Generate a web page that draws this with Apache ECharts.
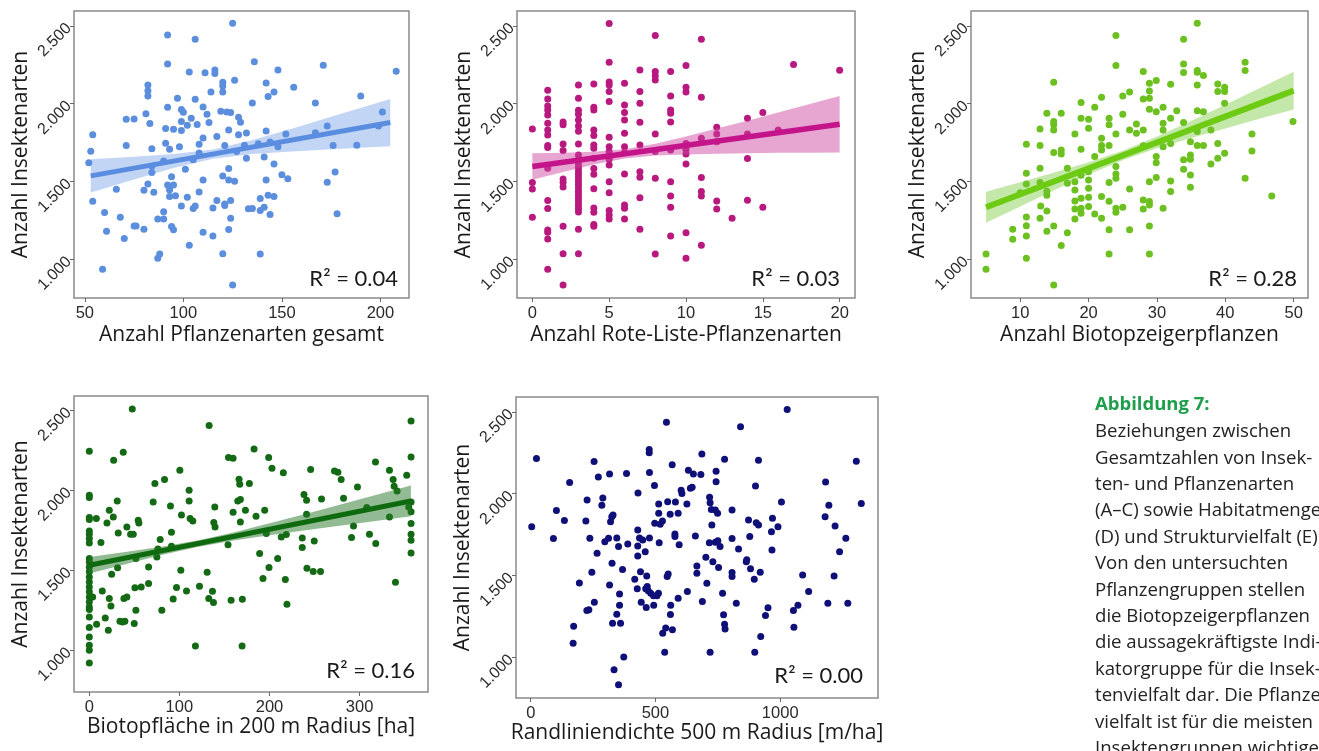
<!DOCTYPE html>
<html lang="de">
<head>
    <meta charset="UTF-8">
    <title>Abbildung 7 - Insekten- und Pflanzenarten</title>
    <script src="https://cdn.jsdelivr.net/npm/echarts@6/dist/echarts.min.js"></script>
    <style>
        body { margin: 0; background: #ffffff; }
        #chart { width: 1319px; height: 751px; }
    </style>
</head>
<body>
    <div id="chart"></div>
    <script>
        // ---- data ----
        const yTicks = [1000, 1500, 2000, 2500];

        // A: Anzahl Pflanzenarten gesamt
        const aTicks = [50, 100, 150, 200];
        const aPts = [[125,2517],[92,2442],[106,2414],[92,2256],[136,2269],[171,2247],[208,2208],[103,2204],[111,2199],[116,2217],[116,2195],[148,2217],[126,2151],[120,2138],[120,2114],[142,2133],[156,2106],[146,2076],[82,2121],[82,2084],[82,2050],[114,2076],[120,2076],[143,2046],[190,2050],[97,2035],[106,2029],[135,2005],[167,2005],[92,1977],[99,1962],[100,1945],[110,1979],[112,1932],[119,1951],[122,1947],[124,1943],[81,1936],[71,1900],[75,1902],[104,1906],[128,1913],[129,1881],[83,1872],[99,1885],[102,1861],[107,1866],[113,1879],[201,1947],[91,1840],[95,1836],[99,1827],[123,1831],[54,1801],[128,1801],[132,1812],[142,1825],[152,1806],[167,1814],[173,1857],[199,1857],[188,1733],[110,1780],[117,1789],[91,1746],[71,1731],[84,1711],[93,1707],[98,1724],[108,1739],[121,1731],[131,1733],[138,1743],[144,1754],[148,1724],[176,1731],[53,1694],[108,1683],[127,1692],[132,1649],[141,1658],[52,1621],[90,1632],[105,1639],[146,1613],[84,1598],[101,1578],[123,1583],[84,1557],[94,1531],[120,1536],[123,1510],[126,1501],[110,1510],[142,1510],[150,1544],[153,1518],[173,1495],[177,1561],[82,1484],[92,1478],[95,1478],[54,1373],[66,1450],[80,1443],[85,1431],[93,1446],[93,1403],[96,1409],[102,1399],[108,1433],[117,1378],[124,1378],[139,1390],[143,1411],[146,1403],[60,1300],[68,1270],[75,1214],[76,1214],[80,1193],[87,1259],[90,1259],[90,1306],[94,1210],[95,1189],[99,1343],[105,1326],[106,1343],[115,1330],[121,1345],[121,1356],[124,1263],[123,1191],[133,1324],[135,1326],[139,1313],[141,1334],[144,1287],[178,1293],[61,1180],[70,1133],[110,1173],[115,1150],[103,1090],[120,1036],[87,1006],[88,1034],[139,1034],[59,936],[125,835]];
        const aFit = [[53,1536],[205,1879]];
        const aBand = [[53,1429,1643],[75,1513,1659],[95,1586,1676],[115,1646,1706],[135,1676,1766],[155,1693,1839],[180,1711,1935],[205,1727,2031]];

        // B: Anzahl Rote-Liste-Pflanzenarten
        const bTicks = [0, 5, 10, 15, 20];
        const bPts = [[0,1838],[0,1493],[0,1452],[0,1270],
            [1,2086],[1,2031],[1,1986],[1,1960],[1,1928],[1,1874],[1,1831],[1,1799],[1,1731],[1,1718],[1,1585],[1,1377],[1,1326],[1,1188],[1,1173],[1,1131],[1,936],
            [2,1883],[2,1864],[2,1741],[2,1699],[2,1516],[2,1493],[2,1465],[2,1212],[2,1036],[2,835],
            [3,2121],[3,2035],[3,1958],[3,1932],[3,1896],[3,1857],[3,1823],[3,1741],[3,1671],[3,1639],[3,1612],[3,1590],[3,1568],[3,1546],[3,1524],[3,1502],[3,1480],[3,1458],[3,1436],[3,1414],[3,1392],[3,1370],[3,1348],[3,1326],[3,1304],[3,1193],[3,1036],
            [4,2127],[4,1977],[4,1960],[4,1831],[4,1795],[4,1735],[4,1714],[4,1649],[4,1583],[4,1546],[4,1454],[4,1330],[4,1302],[4,1223],[4,1212],
            [5,2515],[5,2266],[5,2140],[5,2121],[5,2078],[5,2014],[5,1784],[5,1724],[5,1692],[5,1660],[5,1643],[5,1606],[5,1499],[5,1428],[5,1313],[5,1285],[5,1259],
            [6,2132],[6,1992],[6,1943],[6,1896],[6,1810],[6,1724],[6,1686],[6,1548],[6,1349],[6,1328],[6,1259],
            [7,2217],[7,2078],[7,2003],[7,1881],[7,1735],[7,1563],[7,1527],[7,1396],[7,1193],
            [8,2438],[8,2207],[8,2179],[8,2153],[8,1806],[8,1692],[8,1521],[8,1034],
            [9,2207],[9,2050],[9,1960],[9,1938],[9,1883],[9,1703],[9,1499],[9,1407],[9,1334],[9,1150],
            [10,2245],[10,2106],[10,2076],[10,1744],[10,1705],[10,1677],[10,1613],[10,1171],[10,1006],
            [11,2414],[11,2041],[11,1778],[11,1525],[11,1435],[11,1407],[11,1090],
            [12,1849],[12,1806],[12,1756],[12,1375],[12,1323],[13,1263],
            [14,1906],[14,1806],[14,1647],[14,1379],[15,1943],[15,1334],[16,1831],[17,2252],[20,2215]];
        const bFit = [[0,1596],[20,1868]];
        const bBand = [[0,1511,1681],[2,1561,1685],[4,1609,1691],[6,1648,1708],[8,1667,1743],[10,1674,1790],[12,1678,1840],[14,1681,1891],[16,1684,1944],[18,1685,1997],[20,1687,2049]];

        // C: Anzahl Biotopzeigerpflanzen
        const cTicks = [10, 20, 30, 40, 50];
        const cPts = [[5,1034],[5,936],[8.9,1193],[8.9,1129],[10.9,1739],[10.9,1553],[10.9,1484],[10.9,1272],[10.9,1216],[10.9,1150],[10.9,1006],[10,1428],
            [12.9,1585],[12.9,1731],[12.9,1838],[12.9,1493],[13,1343],[12.9,1263],[13.9,1939],[13.9,1437],[13.9,1411],[13.9,1311],[13.9,1180],
            [14.9,2138],[14.9,1885],[14.9,1864],[14.9,1831],[14.9,1686],[14.9,1214],[14.9,835],[16,1939],[16,1703],[16,1677],[16,1088],
            [16.9,1585],[16.9,1488],[16.9,1171],[18,1806],[18,1499],[18,1446],[18,1375],[18,1323],[18,1259],
            [18.9,2007],[18.9,1906],[18.9,1707],[18.9,1540],[18.9,1392],[18.9,1328],[18.9,1296],
            [20,1900],[20,1842],[20,1563],[20,1510],[20,1456],[20,1399],[20,1339],[20.9,1977],[20.9,1660],[20.9,1291],
            [21.9,2041],[21.9,1778],[21.9,1731],[21.9,1703],[21.9,1403],[21.9,1263],
            [23,1906],[23,1864],[23,1731],[23,1493],[23,1373],[23,1189],[23,1034],
            [24,2438],[24,2245],[24,1806],[24,1596],[24,1548],[24,1521],[24,1328],[24,1302],
            [25,2050],[25,1932],[25,1334],[26,2076],[26,1831],[26,1452],[26,1189],[27,1870],[27,1810],
            [28,2207],[28,2031],[28,1831],[28,1729],[28,1381],[28,1323],
            [28.9,2132],[28.9,2082],[28.9,2035],[28.9,1964],[28.9,1499],[28.9,1371],[28.9,1349],[28.9,1214],[28.9,1034],
            [29.9,2149],[29.9,1949],[29.9,1660],[29.9,1621],[29.9,1525],[30.9,1977],[30.9,1874],[30.9,1831],[30.9,1724],[30.9,1328],
            [32,2125],[32,1906],[32,1744],[32,1503],[32,1435],[32.9,1954],
            [33.9,2414],[33.9,2256],[33.9,2200],[33.9,1879],[33.9,1639],[33.9,1578],
            [34.9,1542],[34.9,1463],[34.9,1671],[34.9,1643],[34.9,1756],
            [35.9,2517],[35.9,2213],[35.9,2202],[35.9,2121],[35.9,1954],[35.9,1821],[35.9,1731],
            [36.8,2181],[36.8,1949],[36.8,1731],[37.9,1831],[37.9,1613],
            [38.9,2127],[38.9,2078],[38.9,1744],[38.9,1649],[39.9,2106],[39.9,2078],[39.9,2003],[39.9,1681],
            [42.9,2266],[42.9,2213],[42.9,1521],[43.9,1806],[43.9,1696],[46.8,1407],[49.9,1885]];
        const cFit = [[5,1334],[50,2084]];
        const cBand = [[5,1234,1434],[10,1339,1495],[15,1445,1557],[20,1545,1623],[25,1637,1697],[30,1713,1789],[35,1779,1889],[40,1841,1993],[45,1903,2099],[50,1963,2205]];

        // D: Biotopfläche in 200 m Radius [ha]
        const dTicks = [0, 100, 200, 300];
        const dPts = [[0,2244],[0,1969],[0,1954],[0,1829],[0,1817],[0,1746],[0,1725],[0,1698],[0,1671],[0,1573],[0,1552],[0,1521],[0,1490],[0,1458],[0,1427],[0,1396],[0,1365],[0,1333],[0,1302],[0,1271],[0,1254],[0,1208],[0,1142],[0,1083],[0,1031],[0,1000],[0,921],
            [1.8,1333],[3.7,1333],[7.8,1823],[8.1,1163],[12.9,1673],[14.4,1371],[17.7,1202],[19.6,1796],[21.1,1125],[22.2,1875],[22.2,1323],[24,1277],[24.8,1475],[26.6,1833],[27,2188],
            [31.4,1515],[32.1,1733],[31,1933],[34,1181],[36.9,1177],[37.7,2237],[38.4,1323],[39.5,1181],[41.7,1771],[41.7,1333],[45.8,1725],[47.7,2508],[48.8,1725],[49.9,1167],
            [50.6,1390],[51.7,1250],[54.3,1813],[55,1796],[57.6,1396],[51.7,1573],[65.8,1521],[65.8,1417],[70.9,1927],[72.8,2042],[75,1583],[76.1,1633],[78.7,1692],[80.5,1250],
            [83.5,2067],[90.1,1902],[91.2,1737],[91.2,1650],[93.1,1321],[96.8,1392],[100.5,2125],[102.3,1846],[101.6,1500],[107.9,1371],[110.8,1933],[110.8,2000],[111.9,1823],[114.9,1808],
            [117.8,1027],[122.3,1400],[130.8,1487],[132.6,1323],[133,2404],[136.7,1369],[138.2,1798],[139.6,1771],[137.8,1298],[139.3,1896],
            [154,1660],[154.5,2204],[159.6,2200],[157.4,1312],[159.6,1863],[164.8,1933],[166.2,2069],[167,2037],[167.7,1942],[167.7,1802],[169.9,1319],[169.6,1027],[173.3,1875],[177.7,2042],
            [182.9,2258],[185.1,1838],[189.1,1604],[192.8,1448],[194.7,1875],[196.5,1729],[199.1,2204],[199.5,1517],[202.8,2137],[209.1,1573],[213.1,1708],[215.4,2110],[217.6,1442],[218.7,1723],[219.4,1287],
            [236.4,1702],[236.4,1642],[238.3,1973],[241.2,1938],[241.2,1850],[241.6,1512],[245.7,2129],[248.6,1492],[249.7,1683],[256.7,1492],[257.8,1946],
            [272.2,2121],[276,2112],[279.6,2067],[282.2,1950],[291.1,1704],[293.3,1777],[297.7,2021],[308,1892],[311,1725],[318,1667],[317.7,2177],
            [333.2,2125],[333.2,1833],[337.3,2067],[338.4,2025],[341.7,1996],[339.9,1425],[352.4,2094],
            [357.2,2433],[357.2,2208],[357.2,1927],[357.2,1865],[357.2,1792],[357.2,1725],[357.2,1688],[357.2,1608],[354.6,1896]];
        const dFit = [[0,1531],[357,1933]];
        const dBand = [[0,1479,1583],[40,1538,1614],[80,1595,1647],[120,1646,1686],[160,1686,1736],[200,1719,1793],[240,1750,1852],[280,1780,1912],[320,1809,1973],[357,1837,2029]];

        // E: Randliniendichte 500 m Radius [m/ha]
        const eTicks = [0, 500, 1000];
        const ePts = [[4,1799],[23,2215],[91,1726],[103,1898],[135,1837],[156,2069],[172,1191],[170,1087],[195,1455],[221,1833],[226,1961],[225,1287],[233,1291],[237,1728],[245,1520],[254,2197],[255,1337],[266,1636],[271,2102],
            [289,1974],[285,1929],[297,1707],[312,1728],[316,2120],[320,1829],[325,1860],[330,1870],[316,1443],[326,1575],[328,1209],[334,925],[345,1730],[352,1677],[352,833],[356,1388],[356,1319],[345,1264],[360,1209],[368,1537],[373,1002],
            [384,2124],[389,1693],[417,1478],[427,1419],[430,2004],[429,1778],[429,1681],[429,1620],[436,1730],[440,1524],[443,1337],[449,1717],[459,1646],[461,1419],[463,1305],[465,1498],[467,1433],[471,1407],
            [475,2270],[475,2250],[476,2130],[476,1730],[481,1392],[492,1376],[496,2051],[493,1319],[497,1819],[506,1376],[512,1392],[513,1937],[513,1880],[515,1701],[519,1813],[529,1148],[528,1833],[537,1032],
            [544,2437],[541,1179],[549,1951],[547,1494],[551,1510],[559,1874],[560,1262],[561,1319],[567,2177],[568,1169],[580,1949],[578,1754],[578,1738],[591,1880],[591,1362],[595,1689],[603,2022],[606,2002],
            [628,1402],[626,1937],[632,2144],[640,2034],[647,2039],[652,2120],[660,1742],[666,1559],[666,1514],[682,2118],[686,2242],[688,1341],[702,1612],[706,1453],[717,1978],[716,1701],[719,1945],[724,1904],[719,1032],
            [726,1809],[730,1585],[740,1703],[740,1900],[743,2073],[743,2138],[749,1880],[750,1713],[753,1549],[759,1677],[769,1392],[773,1260],[777,1203],[779,1173],[777,2211],
            [807,1900],[807,1726],[807,1518],[807,1494],[824,1331],[833,1663],[841,2409],[864,1585],[866,1596],[873,1839],[878,1738],[881,1541],[896,1478],[901,2047],[898,1032],[904,1823],[913,1809],[913,2205],[920,1520],[922,1128],
            [941,1256],[951,1303],[965,1768],[967,1656],[969,1850],[991,1799],[1005,1949],[1028,2514],[1053,1287],[1055,1185],[1071,1319],[1090,1504],[1114,1402],
            [1182,2071],[1180,1860],[1191,1331],[1195,1929],[1216,1498],[1220,1803],[1238,1646],[1263,1728],[1271,1331],[1305,2199],[1325,1941]];

        const r2 = ['0.04', '0.03', '0.28', '0.16', '0.00'];
        const xNames = ['Anzahl Pflanzenarten gesamt', 'Anzahl Rote-Liste-Pflanzenarten', 'Anzahl Biotopzeigerpflanzen',
            'Biotopfläche in 200 m Radius [ha]', 'Randliniendichte 500 m Radius [m/ha]'];
        const yName = 'Anzahl Insektenarten';

        const captionHead = 'Abbildung 7:';
        const captionLines = ['Beziehungen zwischen', 'Gesamtzahlen von Insek-', 'ten- und Pflanzenarten',
            '(A–C) sowie Habitatmenge', '(D) und Strukturvielfalt (E).', 'Von den untersuchten',
            'Pflanzengruppen stellen', 'die Biotopzeigerpflanzen', 'die aussagekräftigste Indi-',
            'katorgruppe für die Insek-', 'tenvielfalt dar. Die Pflanzen-', 'vielfalt ist für die meisten',
            'Insektengruppen wichtiger'];

        // ---- layout / style ----
        const panels = [
            { pts: aPts, fit: aFit, band: aBand, ticks: aTicks, xr: [44.5, 214.5], yr: [751, 2596],
              rect: { left: 74, top: 11, width: 335, height: 287 }, gap: 27, dot: '#5b8edc', line: '#5a8de0', lw: 5, fill: 'rgba(95,145,230,0.38)', r2pos: [398, 290] },
            { pts: bPts, fit: bFit, band: bBand, ticks: bTicks, xr: [-1, 21], yr: [751, 2596],
              rect: { left: 517, top: 11, width: 338, height: 287 }, gap: 27, dot: '#b8197f', line: '#c4148a', lw: 5.5, fill: 'rgba(205,70,160,0.48)', r2pos: [840, 290] },
            { pts: cPts, fit: cFit, band: cBand, ticks: cTicks, xr: [2.8, 52.1], yr: [751, 2596],
              rect: { left: 971, top: 11, width: 337, height: 287 }, gap: 27, dot: '#6cc01f', line: '#6ccb12', lw: 6, fill: 'rgba(115,200,50,0.42)', r2pos: [1297, 290] },
            { pts: dPts, fit: dFit, band: dBand, ticks: dTicks, xr: [-17, 376], yr: [739, 2589],
              rect: { left: 74, top: 396, width: 354, height: 296 }, gap: 25, dot: '#146a14', line: '#0f6a0f', lw: 5, fill: 'rgba(40,120,40,0.5)', r2pos: [415, 682] },
            { pts: ePts, fit: null, band: null, ticks: eTicks, xr: [-59, 1392], yr: [752, 2591],
              rect: { left: 516, top: 397, width: 362, height: 301 }, gap: 20, dot: '#0f0f78', r2pos: [863, 687] }
        ];

        const fmtThousands = v => String(v).replace(/\B(?=(\d{3})+(?!\d))/g, '.');
        const titleFont = { fontFamily: 'Open Sans', fontSize: 21, color: '#1a1a1a' };

        const grid = [], xAxis = [], yAxis = [], series = [], graphic = [];
        panels.forEach((p, i) => {
            grid.push(Object.assign({ show: true, borderColor: '#8a8a8a', borderWidth: 1.5, backgroundColor: '#fff' }, p.rect));
            xAxis.push({
                gridIndex: i, type: 'value', min: p.xr[0], max: p.xr[1],
                axisLine: { show: false, onZero: false }, splitLine: { show: false },
                axisTick: { customValues: p.ticks, length: 4, lineStyle: { color: '#666' } },
                axisLabel: { customValues: p.ticks, margin: 7, fontFamily: 'Liberation Sans', fontSize: 16.5, color: '#2a2a2a', formatter: v => String(v) },
                name: xNames[i], nameLocation: 'middle', nameGap: p.gap, nameTextStyle: titleFont
            });
            yAxis.push({
                gridIndex: i, type: 'value', min: p.yr[0], max: p.yr[1],
                axisLine: { show: false, onZero: false }, splitLine: { show: false },
                axisTick: { customValues: yTicks, length: 4, lineStyle: { color: '#666' } },
                axisLabel: { customValues: yTicks, rotate: 45, margin: 5, fontFamily: 'Liberation Sans', fontSize: 16, color: '#2a2a2a', formatter: fmtThousands },
                name: yName, nameLocation: 'middle', nameGap: 40, nameTextStyle: titleFont
            });
            series.push({ type: 'scatter', xAxisIndex: i, yAxisIndex: i, data: p.pts, symbolSize: 7,
                itemStyle: { color: p.dot, opacity: 1 }, silent: true, z: 2 });
            if (p.band) {
                const band = p.band;
                series.push({
                    type: 'custom', xAxisIndex: i, yAxisIndex: i, data: band, silent: true, z: 3, clip: true,
                    encode: { x: 0, y: [1, 2] },
                    renderItem: (params, api) => {
                        if (params.dataIndex !== 0) return null;
                        const upper = band.map(d => api.coord([d[0], d[2]]));
                        const lower = band.slice().reverse().map(d => api.coord([d[0], d[1]]));
                        return { type: 'polygon', shape: { points: upper.concat(lower) }, style: { fill: p.fill } };
                    }
                });
                series.push({ type: 'line', xAxisIndex: i, yAxisIndex: i, symbol: 'none', silent: true,
                    lineStyle: { width: p.lw, color: p.line }, data: p.fit, z: 4 });
            }
            graphic.push({ type: 'text', x: p.r2pos[0], y: p.r2pos[1], z: 10,
                style: { text: 'R² = ' + r2[i], align: 'right', verticalAlign: 'bottom', fontFamily: 'Lato', fontSize: 22, fill: '#1a1a1a' } });
        });

        graphic.push({ type: 'text', x: 1095, y: 405, style: { text: captionHead, fontFamily: 'Open Sans', fontWeight: 'bold', fontSize: 18.5, fill: '#1f9e4b', verticalAlign: 'middle' } });
        captionLines.forEach((t, k) => {
            graphic.push({ type: 'text', x: 1095, y: 432 + k * 26.4,
                style: { text: t, fontFamily: 'Open Sans', fontSize: 18.6, fill: '#222', verticalAlign: 'middle' } });
        });

        const chart = echarts.init(document.getElementById('chart'));
        chart.setOption({
            backgroundColor: '#ffffff',
            animation: false,
            grid: grid,
            xAxis: xAxis,
            yAxis: yAxis,
            series: series,
            graphic: graphic
        });
    </script>
</body>
</html>
